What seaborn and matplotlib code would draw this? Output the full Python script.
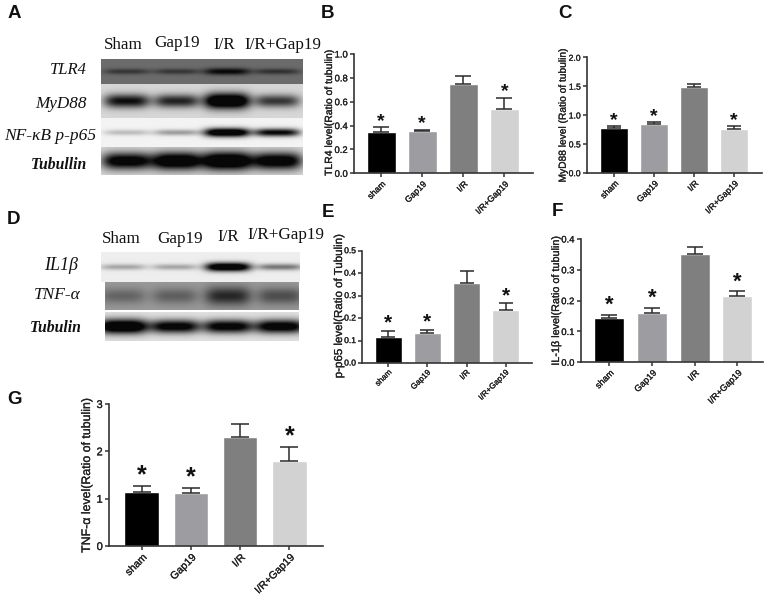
import numpy as np
import matplotlib
matplotlib.use("Agg")
import matplotlib.pyplot as plt
import matplotlib.patheffects as pe
import seaborn as sns

W, H = 768, 602

groups = ["sham", "Gap19", "I/R", "I/R+Gap19"]
bar_colors = ["#000000", "#9d9da1", "#7f7f7f", "#d2d2d2"]

# bar heights and top of the error bars
tlr4_vals = [0.35, 0.355, 0.745, 0.54]
tlr4_tops = [0.385, 0.365, 0.815, 0.63]
myd88_vals = [0.77, 0.84, 1.49, 0.76]
myd88_tops = [0.81, 0.885, 1.535, 0.815]
p65_vals = [0.117, 0.133, 0.355, 0.237]
p65_tops = [0.143, 0.147, 0.41, 0.265]
il1b_vals = [0.143, 0.159, 0.352, 0.214]
il1b_tops = [0.155, 0.176, 0.375, 0.23]
tnf_vals = [1.15, 1.11, 2.31, 1.79]
tnf_tops = [1.27, 1.23, 2.58, 2.09]

lanes_top = ["Sham", "Gap19", "I/R", "I/R+Gap19"]

# blot band darkness per lane (0 = nothing, above 1 = saturated black)
blot_tlr4 = [0.5, 0.5, 0.95, 0.55]
blot_myd88 = [0.95, 0.85, 1.4, 0.75]
blot_p65 = [0.22, 0.35, 1.3, 1.0]
blot_tub_a = [1.15, 1.3, 1.4, 1.2]
blot_il1b = [0.3, 0.3, 1.3, 0.5]
blot_tnf = [0.35, 0.38, 0.75, 0.5]
blot_tub_d = [1.35, 1.1, 1.1, 1.15]

sns.set_theme(style="ticks")
plt.rcParams["font.family"] = ["Liberation Sans", "DejaVu Sans"]
fig = plt.figure(figsize=(W / 100, H / 100), dpi=100, facecolor="white")
thick = [pe.withStroke(linewidth=0.2, foreground="#222222")]


def axes_px(left, top, right, bottom):
    return fig.add_axes([left / W, 1 - bottom / H, (right - left) / W, (bottom - top) / H])


def label_px(x, y, s, **kw):
    fig.text(x / W, 1 - y / H, s, ha=kw.pop("ha", "center"), va=kw.pop("va", "center"), **kw)


def draw_blot(box, darkness, centers, bg, half_w=23, band_h=6):
    left, top, right, bottom = box
    ax = axes_px(left, top, right, bottom)
    xx, yy = np.meshgrid(np.arange(left, right) + 0.5, np.arange(top, bottom) + 0.5)
    yc = (top + bottom) / 2
    img = np.full(xx.shape, float(bg))
    for cx, d in zip(centers, darkness):
        h = band_h * (0.65 + 0.35 * d)
        img -= d * bg * np.exp(-((xx - cx) / half_w) ** 4) * np.exp(-((yy - yc) / h) ** 2)
    sns.heatmap(np.clip(img, 0.03, 1), ax=ax, cmap="gray", vmin=0, vmax=1, cbar=False,
                xticklabels=False, yticklabels=False)
    ax.set_xlabel("")
    ax.set_ylabel("")


def bar_panel(box, centers, width, vals, tops, ymax, yticks, fmt, ylabel, label_xy, label_size,
              tick_size, ytick_size, star_gap, star_size):
    left, top, right, bottom = box
    ax = axes_px(left, top, right, bottom)
    df = {"group": groups, "value": vals}
    step = (centers[-1] - centers[0]) / 3
    sns.barplot(data=df, x="group", y="value", hue="group", order=groups, hue_order=groups,
                palette=bar_colors, width=width / step, legend=False, saturation=1, ax=ax)
    pos = np.arange(4)
    ax.errorbar(pos, vals, yerr=[np.zeros(4), np.array(tops) - np.array(vals)], fmt="none",
                ecolor="#2a2a2a", elinewidth=1.1, capsize=width * 0.19, capthick=1.1)
    ax.set_xlim(-(centers[0] - left) / step, 3 + (right - centers[-1]) / step)
    ax.set_ylim(0, ymax)
    ax.set_yticks(yticks)
    ax.set_yticklabels([fmt % t for t in yticks], fontsize=ytick_size, color="#222222",
                        path_effects=thick)
    ax.set_xticks(pos)
    ax.set_xticklabels(groups, rotation=45, ha="right", rotation_mode="anchor",
                       fontsize=tick_size, color="#222222", path_effects=thick)
    ax.tick_params(axis="both", length=3, width=1.1, color="#333333", pad=1.5)
    ax.set_xlabel("")
    ax.set_ylabel("")
    sns.despine(ax=ax)
    for side in ["left", "bottom"]:
        ax.spines[side].set_linewidth(1.2)
        ax.spines[side].set_color("#333333")
    # star above every bar but I/R
    for i in [0, 1, 3]:
        ax.annotate("*", (i, tops[i]), xytext=(0, star_gap), textcoords="offset points",
                    ha="center", va="center", fontsize=star_size, weight="bold", color="#111111")
    label_px(label_xy[0], label_xy[1], ylabel, rotation=90, fontsize=label_size, color="#222222",
             path_effects=thick)


# blots
lanes_a = [127, 177, 227, 277]
draw_blot((101, 59, 303, 84), blot_tlr4, lanes_a, 0.42, band_h=3.5)
draw_blot((101, 84, 303, 118), blot_myd88, lanes_a, 0.84, band_h=7)
draw_blot((101, 118, 303, 147), blot_p65, lanes_a, 0.95, band_h=4)
draw_blot((101, 147, 303, 175), blot_tub_a, lanes_a, 0.84, half_w=25, band_h=8)

lanes_d = [123, 175, 228, 280]
draw_blot((101, 252, 300, 282), blot_il1b, lanes_d, 0.93, band_h=4)
draw_blot((105, 282, 299, 310), blot_tnf, lanes_d, 0.6, half_w=23, band_h=10)
draw_blot((105, 312, 299, 341), blot_tub_d, lanes_d, 0.88, half_w=25, band_h=6.5)

serif = ["Liberation Serif", "DejaVu Serif"]
for x, y, s in zip([123, 177, 224, 283], [45, 43, 45, 45], lanes_top):
    label_px(x, y, s, family=serif, fontsize=12.3, color="#111111")
for x, y, s in zip([121, 180, 228, 286], [239, 239, 237, 235], lanes_top):
    label_px(x, y, s, family=serif, fontsize=12.3, color="#111111")

for x, y, s, fs in [(87, 70, "TLR4", 12), (87, 104, "MyD88", 12.3), (96, 136, "NF-\u03baB p-p65", 12.5),
                    (87, 165, "Tubullin", 11.3)]:
    label_px(x, y, s, ha="right", family=serif, style="italic", fontsize=fs, color="#111111",
             weight="bold" if s == "Tubullin" else "normal")
for x, y, s, fs in [(78, 265, "IL1\u03b2", 13), (81, 295, "TNF-\u03b1", 12.5), (82, 328, "Tubulin", 11.3)]:
    label_px(x, y, s, ha="right", family=serif, style="italic", fontsize=fs, color="#111111",
             weight="bold" if s == "Tubulin" else "normal")

# bar charts
bar_panel((354, 54, 533, 173.3), [381, 422.3, 463.3, 504.3], 29, tlr4_vals, tlr4_tops, 1.0,
          [0, 0.2, 0.4, 0.6, 0.8, 1.0], "%.1f", "TLR4 level(Ratio of tubulin)", (329, 113), 7.5,
          6.3, 6.8, 4.5, 14)
bar_panel((587, 57.3, 762, 172.7), [614, 654, 694.3, 734], 28, myd88_vals, myd88_tops, 2.0,
          [0, 0.5, 1.0, 1.5, 2.0], "%.1f", "MyD88 level (Ratio of tubulin)", (562.7, 115), 7.35,
          6.3, 6.2, 4, 14)
bar_panel((362.3, 250.7, 532, 363), [388.3, 427.7, 466.7, 505.7], 27, p65_vals, p65_tops, 0.5,
          [0, 0.1, 0.2, 0.3, 0.4, 0.5], "%.1f", "p-p65 level(Ratio of Tubulin)", (339, 306), 8.3,
          5.8, 6.1, 5.8, 15)
bar_panel((580.7, 239, 763.3, 362.3), [609.3, 652, 695, 737.3], 30, il1b_vals, il1b_tops, 0.4,
          [0, 0.1, 0.2, 0.3, 0.4], "%.1f", "IL-1\u03b2 level(Ratio of tubulin)", (556, 300), 7.8,
          6.5, 6.8, 6.9, 16)
bar_panel((109, 404, 322.7, 546), [141.7, 190.7, 240, 289.3], 34.7, tnf_vals, tnf_tops, 3,
          [0, 1, 2, 3], "%d", "TNF-\u03b1 level(Ratio of tubulin)", (87, 475), 8.9,
          7.6, 8, 7.7, 18)

# panel letters
for x, y, s in [(14, 14, "A"), (328, 14, "B"), (565, 14, "C"), (14, 220, "D"),
                (328, 213, "E"), (557, 212, "F"), (14, 400, "G")]:
    label_px(x, y, s, fontsize=13.5, weight="bold", color="#111111")

fig.savefig("out.png", dpi=100)
